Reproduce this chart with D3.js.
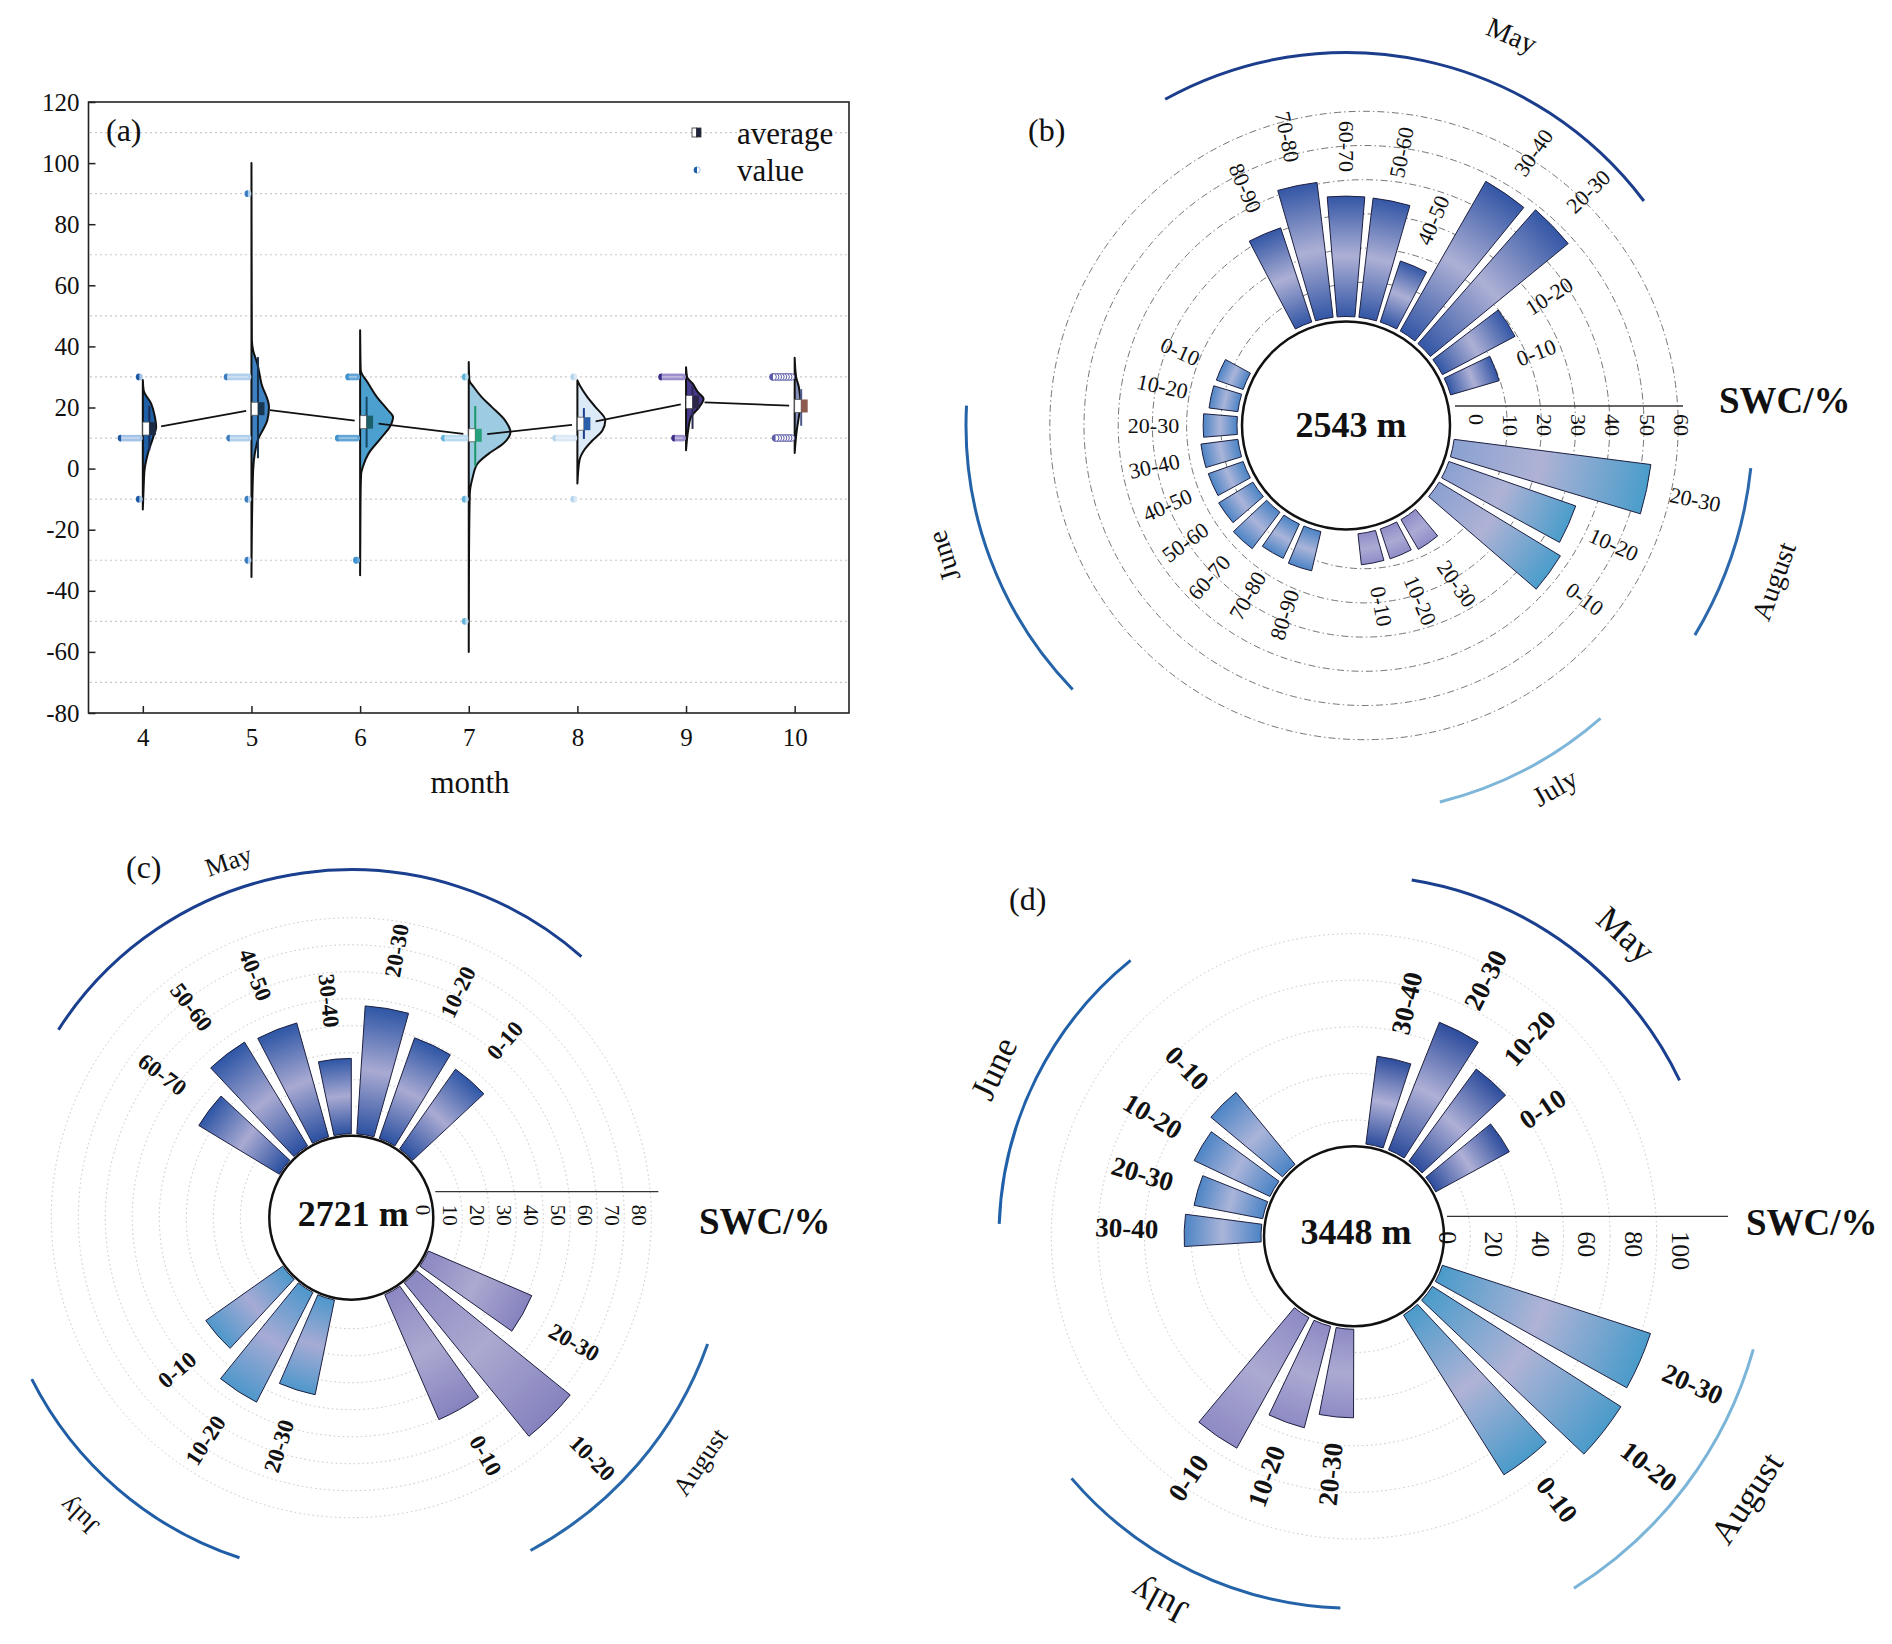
<!DOCTYPE html>
<html>
<head>
<meta charset="utf-8">
<title>SWC by month and elevation</title>
<script src="https://cdn.jsdelivr.net/npm/d3@7"></script>
<style>
  body { margin: 0; background: #fff; }
  svg { display: block; }
  text { font-family: "Liberation Serif", "Times New Roman", serif; fill: #111; }
</style>
</head>
<body>
<div id="chart"></div>
<script>
// ---------------- panel (a) data ----------------
const months = [4, 5, 6, 7, 8, 9, 10];
const monthMeans = [13.1, 19.6, 15.2, 10.9, 14.7, 21.8, 20.5];
const monthWhiskers = [[6, 20.5], [3.4, 36.5], [6.9, 23.5], [0.8, 20.5], [9.7, 19.8], [13, 27], [14, 26]];
// half violin outlines: [value, relative density]
const violinApr = [[-13.4,0],[-6,2],[-0.6,4],[4.9,12],[10.3,25],[13.6,32],[16.9,29],[21.3,20],[25.6,2],[29,0]];
const violinMay = [[-35.5,0],[-20,1],[-0.6,4],[4.9,8],[10.3,18],[13.6,31],[15.8,38],[20.2,42],[27.8,24],[34.4,14],[38.7,4],[42,1],[60,0.6],[100,0]];
const violinJun = [[-34.9,0],[-10,1],[-1.7,2.5],[0.5,6.5],[4.9,20],[10.3,52],[13.6,71],[16.9,79],[19.1,67],[23.5,40],[27.8,20],[32.2,1.5],[38,0.6],[45.3,0]];
const violinJul = [[-60,0],[-30,0.6],[-8.2,2.5],[-2.8,9.5],[1.6,21],[4.9,48],[8.2,83],[12,100],[15.8,87],[20.2,55],[23.4,31],[26.7,12],[28.9,1.5],[34.9,0]];
const violinAug = [[-4.9,0],[2.7,5],[6,16],[9.2,36],[12.5,60],[15.8,67],[20.2,43],[23.4,24],[26.7,8],[28.9,0]];
const violinSep = [[6,0],[9.8,2.5],[12.5,5],[16.9,12],[20.2,32],[22.9,42],[25.1,28],[27.8,16],[30,2.5],[33.2,0]];
const violinOct = [[5.1,0],[12.5,5],[16.9,10],[21.2,14],[26.7,10],[30,3.5],[36.3,0]];
// value points: [value, number of points]
const pointsApr = [[30,1],[10,8],[-10,1]];
const pointsMay = [[90,1],[30,9],[10,8],[-10,1],[-30,1]];
const pointsJun = [[30,4],[10,8],[-30,1]];
const pointsJul = [[30,1],[10,9],[-10,1],[-50,1]];
const pointsAug = [[30,1],[10,8],[-10,1]];
const pointsSep = [[30,9],[10,4]];
const pointsOct = [[30,8],[10,7]];
const yTicks = [-80, -60, -40, -20, 0, 20, 40, 60, 80, 100, 120];
const yGrid = [-70, -50, -30, -10, 10, 30, 50, 70, 90, 110];

// ---------------- polar panels data ----------------
const depthLabels = ["0-10","10-20","20-30","30-40","40-50","50-60","60-70","70-80","80-90"];
const sites = ["2543 m", "2721 m", "3448 m"];
const swcB_May  = [14.8, 24, 52.1, 50.4, 18.8, 35.1, 35.2, 39.7, 29];
const swcB_June = [8.3, 8.5, 9.9, 10.9, 10.8, 11.7, 13.4, 11.1, 11.8];
const swcB_July = [9.1, 9.2, 10.1];
const swcB_Aug  = [41.5, 39.3, 58];
const ticksB = [0, 10, 20, 30, 40, 50, 60];
const swcC_May  = [36.1, 39.5, 47.5, 27.9, 43.8, 45, 34.9];
const swcC_July = [34.9, 45.7, 35.8];
const swcC_Aug  = [50.4, 73.2, 41.7];
const ticksC = [0, 10, 20, 30, 40, 50, 60, 70, 80];
const swcD_May  = [36, 49, 59, 38];
const swcD_June = [40, 36, 30, 33];
const swcD_July = [64, 45, 38];
const swcD_Aug  = [81, 96, 94];
const ticksD = [0, 20, 40, 60, 80, 100];

const svg = d3.select('#chart').append('svg').attr('width', 1892).attr('height', 1644);
const defs = svg.append('defs');

// ================= panel (a) =================
const ax = d3.scaleLinear().domain([3.5, 10.5]).range([88.5, 849]);
const ay = d3.scaleLinear().domain([-80, 120]).range([713, 102]);
const dens = d3.scaleLinear().domain([0, 100]).range([0, 41.7]);

const monthStyle = [
  {violin:'#1f5fa6', dark:'#1b57a3', light:'#a4c3e6', box:'#1c2a44', whisk:'#1b2d55'},
  {violin:'#3f82c1', dark:'#3b7cc0', light:'#b2d0ec', box:'#173850', whisk:'#15304c'},
  {violin:'#4ba0d0', dark:'#3f93cf', light:'#62a5d6', box:'#1b6068', whisk:'#184766'},
  {violin:'#9dcbe2', dark:'#62b3da', light:'#b9dcf0', box:'#27a07c', whisk:'#1c9868'},
  {violin:'#dce9f6', dark:'#b6d6ee', light:'#dbe9f6', box:'#2b5ea9', whisk:'#1c3d8c'},
  {violin:'#4a3a8c', dark:'#3b2c86', light:'#9e90cc', box:'#2b2748', whisk:'#2b2b50'},
  {violin:'#8390bd', dark:'#5b5ba8', light:'#ffffff', box:'#8c5a4e', whisk:'#4c5b8a', hollow:true}
];
const violins = [violinApr, violinMay, violinJun, violinJul, violinAug, violinSep, violinOct];
const monthPoints = [pointsApr, pointsMay, pointsJun, pointsJul, pointsAug, pointsSep, pointsOct];

const pa = svg.append('g');
pa.selectAll('line.grid').data(yGrid).enter().append('line')
  .attr('class', 'grid')
  .attr('x1', 90).attr('x2', 848)
  .attr('y1', d => ay(d)).attr('y2', d => ay(d))
  .attr('stroke', '#c8c8c8').attr('stroke-width', 1.2).attr('stroke-dasharray', '2,3');

const plain = d => String(d);
const yAxis = pa.append('g').attr('transform', 'translate(88.5,0)')
  .call(d3.axisLeft(ay).tickValues(yTicks).tickFormat(plain).tickSize(-7).tickPadding(9));
const xAxis = pa.append('g').attr('transform', 'translate(0,713)')
  .call(d3.axisBottom(ax).tickValues(months).tickFormat(plain).tickSize(-7).tickPadding(15));
[yAxis, xAxis].forEach(a => {
  a.attr('font-family', '"Liberation Serif", serif').attr('font-size', 25);
  a.select('.domain').remove();
  a.selectAll('.tick line').attr('stroke', '#222').attr('stroke-width', 1.5);
  a.selectAll('.tick text').attr('fill', '#111');
});

// violins, whiskers, points
months.forEach((m, i) => {
  const cx = ax(m), st = monthStyle[i];
  const area = d3.area().curve(d3.curveMonotoneY)
    .y(d => ay(d[0])).x0(cx).x1(d => cx + dens(d[1]));
  pa.append('path').attr('d', area(violins[i]))
    .attr('fill', st.violin).attr('stroke', '#111').attr('stroke-width', 2)
    .attr('stroke-linejoin', 'round');
  pa.append('line')
    .attr('x1', cx + 6.5).attr('x2', cx + 6.5)
    .attr('y1', ay(monthWhiskers[i][0])).attr('y2', ay(monthWhiskers[i][1]))
    .attr('stroke', st.whisk).attr('stroke-width', 2);
  monthPoints[i].forEach(([v, n]) => {
    const py = ay(v), r = 3.4;
    for (let j = 0; j < n; j++) {
      const px = cx - 3.5 - j * 2.6;
      if (st.hollow) {
        pa.append('circle').attr('cx', px).attr('cy', py).attr('r', r)
          .attr('fill', '#fff').attr('stroke', st.dark).attr('stroke-width', 1);
      } else {
        pa.append('circle').attr('cx', px).attr('cy', py).attr('r', r).attr('fill', st.light);
      }
      if (j === n - 1) {
        pa.append('path')
          .attr('d', `M${px},${py - r}A${r},${r} 0 0 0 ${px},${py + r}Z`)
          .attr('fill', st.dark);
      }
    }
    if (n > 1 && !st.hollow) {
      pa.append('line').attr('x1', cx - 3.5 - (n - 1) * 2.6).attr('x2', cx - 3)
        .attr('y1', py).attr('y2', py).attr('stroke', '#fff').attr('stroke-width', 0.8)
        .attr('opacity', 0.8);
    }
  });
});

// mean line (interrupted at boxes)
for (let i = 0; i < months.length - 1; i++) {
  const x1 = ax(months[i]) + 6.5, y1 = ay(monthMeans[i]);
  const x2 = ax(months[i + 1]) + 6.5, y2 = ay(monthMeans[i + 1]);
  const len = Math.hypot(x2 - x1, y2 - y1), ux = (x2 - x1) / len, uy = (y2 - y1) / len;
  pa.append('line')
    .attr('x1', x1 + ux * 12).attr('y1', y1 + uy * 12)
    .attr('x2', x2 - ux * 12).attr('y2', y2 - uy * 12)
    .attr('stroke', '#111').attr('stroke-width', 1.8);
}
// average boxes
months.forEach((m, i) => {
  const cx = ax(m), cy = ay(monthMeans[i]);
  pa.append('rect').attr('x', cx).attr('y', cy - 6.5).attr('width', 6.5).attr('height', 13)
    .attr('fill', '#fff').attr('stroke', '#555').attr('stroke-width', 0.8);
  pa.append('rect').attr('x', cx + 6.5).attr('y', cy - 6.5).attr('width', 6.5).attr('height', 13)
    .attr('fill', monthStyle[i].box);
});

pa.append('rect').attr('x', 88.5).attr('y', 102).attr('width', 760.5).attr('height', 611)
  .attr('fill', 'none').attr('stroke', '#222').attr('stroke-width', 1.6);

pa.append('text').attr('x', 470).attr('y', 782).attr('text-anchor', 'middle')
  .attr('dominant-baseline', 'central').attr('font-size', 31).text('month');
pa.append('text').attr('x', 106).attr('y', 130).attr('dominant-baseline', 'central')
  .attr('font-size', 32).text('(a)');

// legend
pa.append('rect').attr('x', 692).attr('y', 128).attr('width', 4.5).attr('height', 9)
  .attr('fill', '#fff').attr('stroke', '#333').attr('stroke-width', 0.8);
pa.append('rect').attr('x', 696.5).attr('y', 128).attr('width', 4.5).attr('height', 9)
  .attr('fill', '#1c2440').attr('stroke', '#333').attr('stroke-width', 0.8);
pa.append('text').attr('x', 737).attr('y', 133).attr('dominant-baseline', 'central')
  .attr('font-size', 31).text('average');
pa.append('circle').attr('cx', 697).attr('cy', 170).attr('r', 3.2)
  .attr('fill', '#fff').attr('stroke', '#8fb4dc').attr('stroke-width', 0.8);
pa.append('path').attr('d', 'M697,166.8A3.2,3.2 0 0 0 697,173.2Z').attr('fill', '#1f5fa6');
pa.append('text').attr('x', 737).attr('y', 170).attr('dominant-baseline', 'central')
  .attr('font-size', 31).text('value');

// ================= polar panels =================
const rad = Math.PI / 180;
const pt = (R, th) => [R * Math.cos(th * rad), -R * Math.sin(th * rad)];

function drawPolar(c) {
  const g = svg.append('g').attr('transform', `translate(${c.cx},${c.cy})`);
  const rs = d3.scaleLinear().domain([0, 100]).range([c.r0, c.r0 + c.k * 100]);

  // one entry per bar, angle from the group's own angular scale
  const bars = [];
  c.groups.forEach(grp => {
    const ang = d3.scaleLinear().domain([0, 1]).range([grp.start, grp.start + grp.step]);
    grp.values.forEach((v, i) => bars.push({ grp, label: depthLabels[i], value: v, th: ang(i) }));
  });

  // grid circles
  g.append('g').selectAll('circle').data(c.grid).enter().append('circle')
    .attr('cx', c.gridDx).attr('cy', 0).attr('r', d => rs(d))
    .attr('fill', 'none').attr('stroke', c.gridColor).attr('stroke-width', c.gridWidth)
    .attr('stroke-dasharray', c.gridDash);

  // bars
  const arc = d3.arc();
  bars.forEach((s, i) => {
    const th = s.th, a0 = th - c.barWidth / 2, a1 = th + c.barWidth / 2;
    const rEnd = rs(s.value);
    const gid = `grad-${c.id}-${i}`;
    const [x1, y1] = pt(c.r0, th), [x2, y2] = pt(rEnd, th);
    const lg = defs.append('linearGradient').attr('id', gid)
      .attr('gradientUnits', 'userSpaceOnUse')
      .attr('x1', x1).attr('y1', y1).attr('x2', x2).attr('y2', y2);
    s.grp.stops.forEach(([o, col]) => lg.append('stop').attr('offset', o).attr('stop-color', col));
    g.append('path')
      .attr('d', arc({ innerRadius: c.r0, outerRadius: rEnd,
                       startAngle: (90 - a1) * rad, endAngle: (90 - a0) * rad }))
      .attr('fill', `url(#${gid})`).attr('stroke', '#1e2040').attr('stroke-width', 1);

    const right = Math.cos(th * rad) > 0.001;
    const [lx, ly] = pt(rEnd + c.labOff, th);
    g.append('text')
      .attr('transform', `translate(${lx},${ly}) rotate(${right ? -th : 180 - th})`)
      .attr('text-anchor', right ? 'start' : 'end').attr('dominant-baseline', 'central')
      .attr('font-size', c.labFont).attr('font-weight', c.labBold ? 'bold' : 'normal')
      .text(s.label);
  });

  // centre disc and site
  g.append('circle').attr('r', c.rc).attr('fill', '#fff').attr('stroke', '#111').attr('stroke-width', 2.5);
  g.append('text').attr('x', c.siteDx).attr('y', c.siteDy).attr('text-anchor', 'middle')
    .attr('font-size', 36).attr('font-weight', 'bold').text(c.site);

  // radial axis
  g.append('line').attr('x1', c.r0).attr('x2', c.axisEnd)
    .attr('y1', -c.axisOff).attr('y2', -c.axisOff)
    .attr('stroke', '#333').attr('stroke-width', 1.3);
  c.ticks.forEach(v => {
    g.append('text')
      .attr('transform', `translate(${rs(v) + c.tickShift},${-c.axisOff + c.tickGap}) rotate(90)`)
      .attr('dominant-baseline', 'central').attr('font-size', c.tickFont).text(v);
  });

  // month arcs
  c.arcs.forEach(m => {
    const p = d3.path();
    const [sx, sy] = pt(m.r, m.a[0]);
    p.moveTo(sx, sy);
    p.arc(0, 0, m.r, -m.a[0] * rad, -m.a[1] * rad, true);
    g.append('path').attr('d', p.toString()).attr('fill', 'none')
      .attr('stroke', m.color).attr('stroke-width', 3);
    const [tx, ty] = pt(m.lr, m.la);
    const rot = m.ori === 'cw' ? 90 - m.la : -90 - m.la;
    g.append('text').attr('transform', `translate(${tx},${ty}) rotate(${rot})`)
      .attr('text-anchor', 'middle').attr('dominant-baseline', 'central')
      .attr('font-size', c.monthFont).text(m.name);
  });

  svg.append('text').attr('x', c.letter[0]).attr('y', c.letter[1])
    .attr('dominant-baseline', 'central').attr('font-size', 32).text(c.letter[2]);
  svg.append('text').attr('x', c.swc[0]).attr('y', c.swc[1])
    .attr('dominant-baseline', 'central').attr('font-size', 37).attr('font-weight', 'bold')
    .text('SWC/%');
}

const stopsMay  = [[0, '#3356a5'], [0.5, '#adb0d5'], [1, '#3356a5']];
const stopsJune = [[0, '#4c84c5'], [0.5, '#aab4d9'], [1, '#4c84c5']];
const stopsJuly = [[0, '#8f8cc7'], [0.5, '#aaaad4'], [1, '#8f8cc7']];
const stopsAugB = [[0, '#8aa1d1'], [0.45, '#afb2d5'], [1, '#4a9dcb']];

drawPolar({
  id: 'b', cx: 1346, cy: 425.5, rc: 104, r0: 109, k: 3.42, barWidth: 9.4,
  groups: [
    { values: swcB_May, stops: stopsMay, start: 21, step: 11.5 },
    { values: swcB_June, stops: stopsJune, start: 156, step: 12 },
    { values: swcB_July, stops: stopsJuly, start: 281, step: 12 },
    { values: swcB_Aug, stops: stopsAugB, start: 324, step: 12 }
  ],
  grid: [10, 20, 30, 40, 50, 60], gridDx: 18, gridColor: '#666', gridWidth: 0.9, gridDash: '7,3,1.5,3',
  ticks: ticksB, tickShift: 21, tickGap: 8, tickFont: 22, axisOff: 19.5, axisEnd: 337,
  labFont: 22, labBold: false, labOff: 24,
  site: sites[0], siteDx: 5, siteDy: 11,
  monthFont: 28,
  arcs: [
    { name: 'May', r: 373, a: [37, 119], color: '#1b3d8c', lr: 424, la: 67, ori: 'cw' },
    { name: 'June', r: 380, a: [177, 224], color: '#2463a8', lr: 423, la: 198, ori: 'cw' },
    { name: 'July', r: 388, a: [284, 311], color: '#7db6d8', lr: 418, la: 300, ori: 'ccw' },
    { name: 'August', r: 407, a: [329, 354], color: '#2c68ac', lr: 455, la: 340, ori: 'ccw' }
  ],
  letter: [1028, 130, '(b)'], swc: [1719, 400]
});

drawPolar({
  id: 'c', cx: 351.3, cy: 1217.7, rc: 82, r0: 84, k: 2.7, barWidth: 11.9,
  groups: [
    { values: swcC_May, stops: [[0, '#2b50a0'], [0.5, '#a9aad2'], [1, '#2d55a5']], start: 49, step: 15.65 },
    { values: swcC_July, stops: [[0, '#4e97cb'], [0.5, '#a6abd4'], [1, '#4e97cb']], start: 221.2, step: 15.65 },
    { values: swcC_Aug, stops: [[0, '#8c88c2'], [0.5, '#aba9d0'], [1, '#8682bf']], start: 299.4, step: 15.65 }
  ],
  grid: [10, 20, 30, 40, 50, 60, 70, 80], gridDx: 0, gridColor: '#c4c4c4', gridWidth: 1, gridDash: '1.5,3',
  ticks: ticksC, tickShift: -12, tickGap: 13, tickFont: 21, axisOff: 26, axisEnd: 307,
  labFont: 23, labBold: true, labOff: 32,
  site: sites[1], siteDx: 2, siteDy: 8,
  monthFont: 26,
  arcs: [
    { name: 'May', r: 348, a: [48.6, 147.3], color: '#1b3f8f', lr: 377, la: 109, ori: 'cw' },
    { name: 'July', r: 358, a: [206.8, 251.8], color: '#1f5ea6', lr: 404, la: 227.6, ori: 'cw' },
    { name: 'August', r: 378, a: [298.3, 340.5], color: '#2868aa', lr: 426, la: 325, ori: 'ccw' }
  ],
  letter: [126, 867, '(c)'], swc: [699, 1221]
});

drawPolar({
  id: 'd', cx: 1354, cy: 1236.3, rc: 90, r0: 93, k: 2.33, barWidth: 10.9,
  groups: [
    { values: swcD_May, stops: [[0, '#2c4c9c'], [0.5, '#afb0d6'], [1, '#2c4c9c']], start: 34, step: 14.4 },
    { values: swcD_June, stops: stopsJune, start: 134.8, step: 14.4 },
    { values: swcD_July, stops: [[0, '#8e8ac4'], [0.5, '#abaad2'], [1, '#8e8ac4']], start: 235.6, step: 14.4 },
    { values: swcD_Aug, stops: [[0, '#4a9bca'], [0.5, '#b0b3d6'], [1, '#4a9bca']], start: 307.6, step: 14.4 }
  ],
  grid: [10, 30, 50, 70, 90], gridDx: 0, gridColor: '#c4c4c4', gridWidth: 1, gridDash: '1.5,3',
  ticks: ticksD, tickShift: 0, tickGap: 15, tickFont: 26, axisOff: 20, axisEnd: 374,
  labFont: 27, labBold: true, labOff: 26,
  site: sites[2], siteDx: 2, siteDy: 8,
  monthFont: 35,
  arcs: [
    { name: 'May', r: 361, a: [25.6, 80.8], color: '#1b3f8f', lr: 406, la: 48, ori: 'cw' },
    { name: 'June', r: 355, a: [129, 178], color: '#2060a8', lr: 397, la: 155, ori: 'cw' },
    { name: 'July', r: 372, a: [220.6, 267.9], color: '#2463a8', lr: 414, la: 241.9, ori: 'cw' },
    { name: 'August', r: 415, a: [302, 344.2], color: '#7ab4d8', lr: 472, la: 326.3, ori: 'ccw' }
  ],
  letter: [1009, 899, '(d)'], swc: [1746, 1222]
});
</script>
</body>
</html>
